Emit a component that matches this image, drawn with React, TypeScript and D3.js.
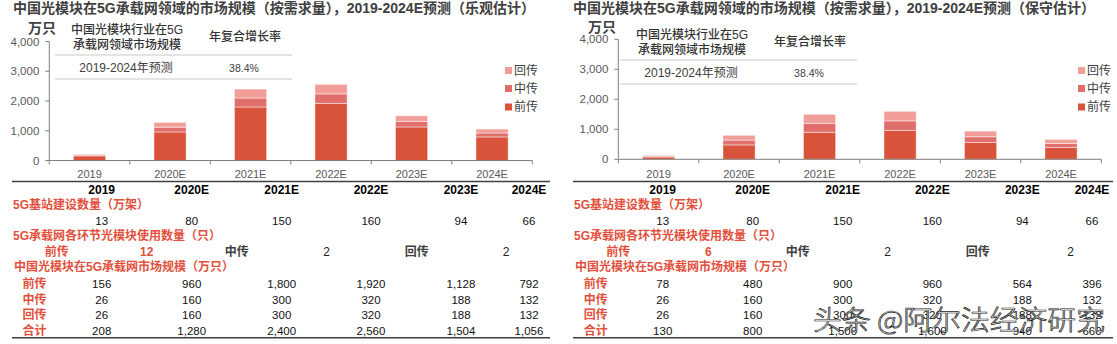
import React from 'react';
import * as d3 from 'd3';

const years = ['2019', '2020E', '2021E', '2022E', '2023E', '2024E'];
const seriesNames = ['前传', '中传', '回传'];
const optFront = [156, 960, 1800, 1920, 1128, 792];
const optMid = [26, 160, 300, 320, 188, 132];
const optBack = [26, 160, 300, 320, 188, 132];
const optTotal = [208, 1280, 2400, 2560, 1504, 1056];
const consFront = [78, 480, 900, 960, 564, 396];
const consMid = [26, 160, 300, 320, 188, 132];
const consBack = [26, 160, 300, 320, 188, 132];
const consTotal = [130, 800, 1500, 1600, 940, 660];
const baseStations = [13, 80, 150, 160, 94, 66];
const optModules = [12, 2, 2];
const consModules = [6, 2, 2];
const yTicks = [0, 1000, 2000, 3000, 4000];
const cagrPeriod = '2019-2024年预测';
const cagrValue = '38.4%';
const titleOpt = '中国光模块在5G承载网领域的市场规模（按需求量），2019-2024E预测（乐观估计）';
const titleCons = '中国光模块在5G承载网领域的市场规模（按需求量），2019-2024E预测（保守估计）';

const COLORS = ['#D9533B', '#E06E6A', '#F19E99'];
const RED = '#E2503D';
const FONT = "'Liberation Sans', Arial, 'Noto Sans CJK SC', sans-serif";
const fmt = d3.format(',');

type Cfg = {
  title: string; titleX: number;
  axisX: number; axisEnd: number; y0: number; yTop: number;
  unitX: number; unitY: number; legendX: number;
  insetDX: number; insetDY: number;
  tableX0: number; tableX1: number; cols: number[]; row4: number[];
  labelX: number; rowLabelX: number;
  front: number[]; mid: number[]; back: number[]; total: number[]; modules: number[];
};

function Panel({ c }: { c: Cfg }) {
  const x = d3.scaleBand<string>().domain(years).range([c.axisX, c.axisEnd]).paddingInner(0.6).paddingOuter(0.3);
  const y = d3.scaleLinear().domain([0, 4000]).range([c.y0, c.yTop]);
  const rows = years.map((yr, i) => ({ yr, '前传': c.front[i], '中传': c.mid[i], '回传': c.back[i] }));
  const stack = d3.stack<any>().keys(seriesNames)(rows);
  const step = x.step();
  const legendY = [70.5, 88.5, 107];
  const ix = c.insetDX, iy = c.insetDY;
  const rowYs = { header: 190, bsLabel: 205, bs: 221, modLabel: 236, mod: 252, mktLabel: 267, front: 283.5, mid: 299.5, back: 314.5, total: 330.5 };
  const tableRows = [
    { label: '前传', vals: c.front, y: rowYs.front },
    { label: '中传', vals: c.mid, y: rowYs.mid },
    { label: '回传', vals: c.back, y: rowYs.back },
    { label: '合计', vals: c.total, y: rowYs.total },
  ];
  return (
    <g fontFamily={FONT}>
      <text x={c.titleX} y={8} dominantBaseline="central" fontSize={14} fontWeight="bold" fill="#404040">{c.title}</text>
      <text x={c.unitX} y={c.unitY} dominantBaseline="central" textAnchor="middle" fontSize={14} fontWeight="bold" fill="#404040">万只</text>
      {/* inset table */}
      <text x={127 + ix} y={29.5 + iy} dominantBaseline="central" textAnchor="middle" fontSize={12} fontWeight={500} fill="#333">中国光模块行业在5G</text>
      <text x={127 + ix} y={44.5 + iy} dominantBaseline="central" textAnchor="middle" fontSize={12} fontWeight={500} fill="#333">承载网领域市场规模</text>
      <text x={245 + ix} y={36.5 + iy} dominantBaseline="central" textAnchor="middle" fontSize={12} fontWeight={500} fill="#333">年复合增长率</text>
      <line x1={55 + ix} x2={292 + ix} y1={55 + iy} y2={55 + iy} stroke="#e4e4e4" strokeWidth={2} />
      <text x={126 + ix} y={68 + iy} dominantBaseline="central" textAnchor="middle" fontSize={12} fill="#404040">{cagrPeriod}</text>
      <text x={244 + ix} y={68 + iy} dominantBaseline="central" textAnchor="middle" fontSize={10.5} fill="#404040">{cagrValue}</text>
      <line x1={55 + ix} x2={292 + ix} y1={79 + iy} y2={79 + iy} stroke="#e4e4e4" strokeWidth={2} />
      {/* bars */}
      {stack.map((s, si) => (
        <g key={si}>
          {s.map((d, i) => (
            <rect key={i} x={x(years[i])} width={x.bandwidth()} y={y(d[1])} height={y(d[0]) - y(d[1])}
              fill={COLORS[si]} stroke="rgba(255,255,255,0.45)" strokeWidth={1} />
          ))}
        </g>
      ))}
      {/* y axis */}
      <line x1={c.axisX} x2={c.axisX} y1={c.yTop} y2={c.y0} stroke="#7f7f7f" strokeWidth={1} />
      {yTicks.map(t => (
        <g key={t}>
          <line x1={c.axisX - 4} x2={c.axisX} y1={y(t)} y2={y(t)} stroke="#7f7f7f" />
          <text x={c.axisX - 10} y={y(t)} dominantBaseline="central" textAnchor="end" fontSize={11.5} fill="#595959">{fmt(t)}</text>
        </g>
      ))}
      {/* x axis */}
      <line x1={c.axisX} x2={c.axisEnd} y1={c.y0} y2={c.y0} stroke="#7f7f7f" strokeWidth={1} />
      {d3.range(7).map(i => (
        <line key={i} x1={c.axisX + i * step} x2={c.axisX + i * step} y1={c.y0} y2={c.y0 + 4} stroke="#7f7f7f" />
      ))}
      {years.map(yr => (
        <text key={yr} x={(x(yr) as number) + x.bandwidth() / 2} y={173.5} dominantBaseline="central" textAnchor="middle" fontSize={11} fill="#595959">{yr}</text>
      ))}
      {/* legend */}
      {[2, 1, 0].map((si, k) => (
        <g key={si}>
          <rect x={c.legendX} y={legendY[k] - 3.5} width={7} height={7} fill={COLORS[si]} />
          <text x={c.legendX + 9} y={legendY[k]} dominantBaseline="central" fontSize={12} fill="#404040">{seriesNames[si]}</text>
        </g>
      ))}
      {/* data table */}
      <line x1={c.tableX0} x2={c.tableX1} y1={181.5} y2={181.5} stroke="#404040" strokeWidth={1.5} />
      {years.map((yr, i) => (
        <text key={yr} x={c.cols[i]} y={rowYs.header} dominantBaseline="central" textAnchor="middle" fontSize={12} fontWeight="bold" fill="#000">{yr}</text>
      ))}
      <text x={c.labelX} y={rowYs.bsLabel} dominantBaseline="central" fontSize={12} fontWeight="bold" fill={RED}>5G基站建设数量（万架）</text>
      {baseStations.map((v, i) => (
        <text key={i} x={c.cols[i]} y={rowYs.bs} dominantBaseline="central" textAnchor="middle" fontSize={11.5} fill="#111">{fmt(v)}</text>
      ))}
      <text x={c.labelX} y={rowYs.modLabel} dominantBaseline="central" fontSize={12} fontWeight="bold" fill={RED}>5G承载网各环节光模块使用数量（只）</text>
      {seriesNames.map((n, k) => (
        <g key={n}>
          <text x={c.row4[k * 2]} y={rowYs.mod} dominantBaseline="central" textAnchor="middle" fontSize={12} fontWeight="bold" fill={k === 0 ? RED : '#404040'}>{n}</text>
          <text x={c.row4[k * 2 + 1]} y={rowYs.mod} dominantBaseline="central" textAnchor="middle" fontSize={12} fontWeight={k === 0 ? 'bold' : 'normal'} fill={k === 0 ? RED : '#222'}>{c.modules[k]}</text>
        </g>
      ))}
      <text x={c.labelX + 1} y={rowYs.mktLabel} dominantBaseline="central" fontSize={12} fontWeight="bold" fill={RED}>中国光模块在5G承载网市场规模（万只）</text>
      {tableRows.map(r => (
        <g key={r.label}>
          <text x={c.rowLabelX} y={r.y} dominantBaseline="central" textAnchor="middle" fontSize={12} fontWeight="bold" fill={RED}>{r.label}</text>
          {r.vals.map((v, i) => (
            <text key={i} x={c.cols[i]} y={r.y} dominantBaseline="central" textAnchor="middle" fontSize={11.5} fill="#111">{fmt(v)}</text>
          ))}
        </g>
      ))}
      <line x1={c.tableX0} x2={c.tableX1} y1={337.7} y2={337.7} stroke="#404040" strokeWidth={1.5} />
    </g>
  );
}

const leftCfg: Cfg = {
  title: titleOpt, titleX: 13,
  axisX: 49.3, axisEnd: 532.3, y0: 160.5, yTop: 41.5,
  unitX: 42, unitY: 28, legendX: 505, insetDX: 0, insetDY: 0,
  tableX0: 12, tableX1: 550, cols: [101.7, 191.7, 281.7, 371, 461, 529],
  row4: [56.7, 146.7, 236.7, 326.7, 416.7, 506],
  labelX: 13, rowLabelX: 34.4,
  front: optFront, mid: optMid, back: optBack, total: optTotal, modules: optModules,
};
const rightCfg: Cfg = {
  title: titleCons, titleX: 573,
  axisX: 618.3, axisEnd: 1101.3, y0: 159.3, yTop: 39.3,
  unitX: 602, unitY: 26.7, legendX: 1078, insetDX: 565, insetDY: 5,
  tableX0: 573, tableX1: 1113, cols: [662.7, 752.7, 842.7, 932.3, 1022.3, 1092],
  row4: [618.3, 708.3, 797.7, 887.7, 977.7, 1070.7],
  labelX: 574, rowLabelX: 595.8,
  front: consFront, mid: consMid, back: consBack, total: consTotal, modules: consModules,
};

export default function App() {
  return (
    <svg width={1117} height={344} style={{ position: 'absolute', left: 0, top: 0, background: '#fff' }}>
      <rect width={1117} height={344} fill="#fff" />
      <Panel c={leftCfg} />
      <Panel c={rightCfg} />
      <text x={813} y={318} dominantBaseline="central" fontSize={27} textLength={292} lengthAdjust="spacingAndGlyphs"
        fontFamily="'Noto Sans CJK SC', sans-serif" fontWeight={300} fill="#fff" stroke="#1a1a1a" strokeWidth={0.7}>头条 @阿尔法经济研究</text>
    </svg>
  );
}
